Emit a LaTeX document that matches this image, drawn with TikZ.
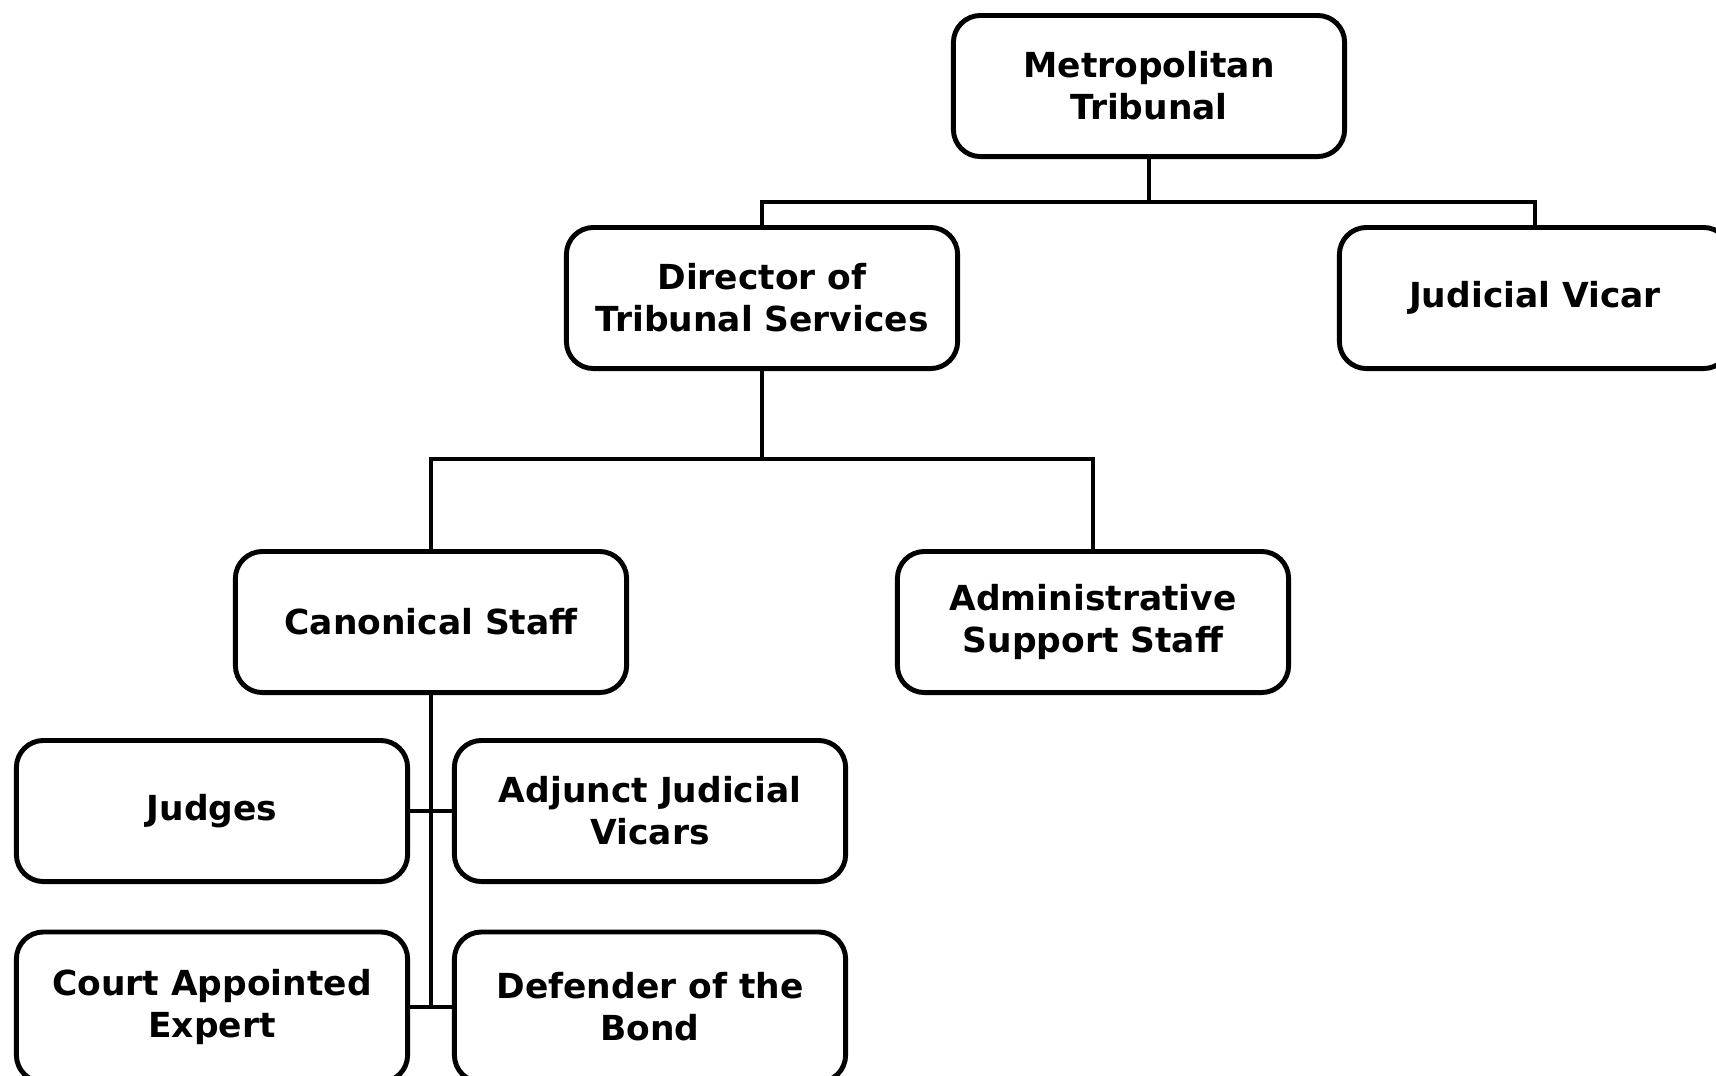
\documentclass[tikz,border=0pt]{standalone}
\usepackage{fontspec}
\setmainfont{DejaVu Sans}
\usepackage{tikz}

\tikzset{
	office/.style = {draw, line width = 1.4pt, rounded corners = 0.27cm, align = center,
		minimum width = 3.91cm, minimum height = 1.41cm, inner sep = 0pt,
		font = \fontsize{9.8}{11.9}\selectfont\bfseries},
	link/.style = {line width = 1.4pt}
}

\begin{document}
\begin{tikzpicture}[x = 0.01cm, y = -0.01cm]
	\useasboundingbox (0,0) rectangle (1716,1075);
	\clip (0,0) rectangle (1716,1075);
	
	% top level
	\node[office] (metro) at (1149, 86) {Metropolitan\\Tribunal};
	\node[office] (director) at (762, 298) {Director of\\Tribunal Services};
	\node[office] (vicar) at (1535, 298) {Judicial Vicar};
	
	% staff
	\node[office] (canon) at (431, 622) {Canonical Staff};
	\node[office] (admin) at (1093, 622) {Administrative\\Support Staff};
	
	% canonical offices (bottom row runs off the page)
	\node[office] (judges) at (212, 811) {Judges};
	\node[office] (adjunct) at (650, 811) {Adjunct Judicial\\Vicars};
	\node[office, minimum height = 1.5cm] (expert) at (212, 1007) {Court Appointed\\Expert};
	\node[office, minimum height = 1.5cm] (defender) at (650, 1007) {Defender of the\\Bond};
	
	% connectors
	\coordinate (busA) at (0, 202);
	\coordinate (busB) at (0, 459);
	\draw[link] (metro.south) -- (metro.south |- busA) -| (director.north);
	\draw[link] (metro.south |- busA) -| (vicar.north);
	\draw[link] (director.south) -- (director.south |- busB) -| (canon.north);
	\draw[link] (director.south |- busB) -| (admin.north);
	\draw[link] (canon.south) -- (canon.south |- expert.east);
	\draw[link] (judges.east) -- (adjunct.west);
	\draw[link] (expert.east) -- (defender.west);
\end{tikzpicture}
\end{document}
